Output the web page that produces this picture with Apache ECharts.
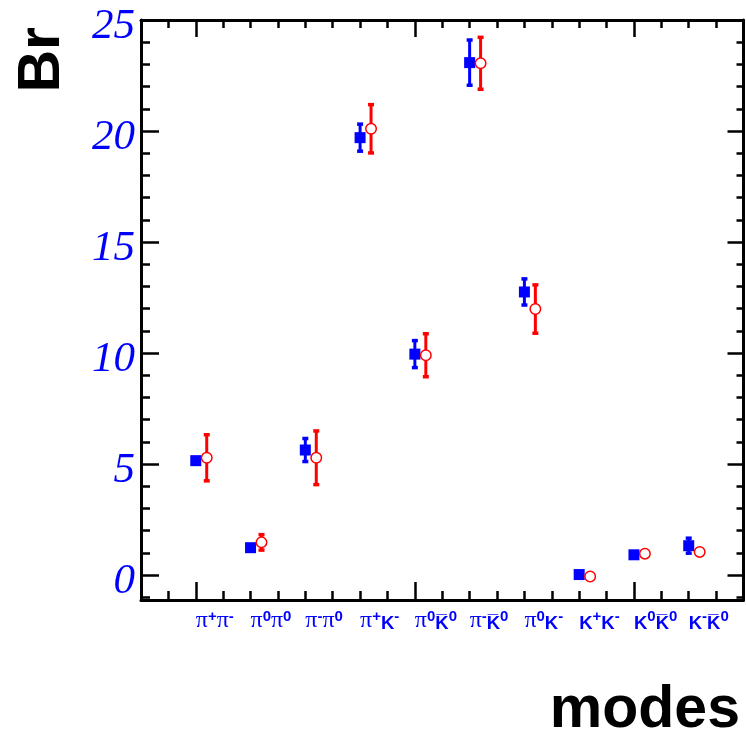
<!DOCTYPE html>
<html><head><meta charset="utf-8">
<script src="https://cdn.jsdelivr.net/npm/echarts@6/dist/echarts.min.js"></script>
<style>html,body{margin:0;padding:0;background:#fff}#c{width:746px;height:737px}</style>
</head><body><div id="c"></div>
<script>
// categories (decay modes), drawn at x = 0..9
const modeLabels = [
  '{p|π}{s|+}{p|π}{s|-}',
  '{p|π}{s|0}{p|π}{s|0}',
  '{p|π}{s|-}{p|π}{s|0}',
  '{p|π}{s|+}{k|K}{s|-}',
  '{p|π}{s|0}{k|K\u0305}{s|0}',
  '{p|π}{s|-}{k|K\u0305}{s|0}',
  '{p|π}{s|0}{k|K}{s|-}',
  '{k|K}{s|+}{k|K}{s|-}',
  '{k|K}{s|0}{k|K\u0305}{s|0}',
  '{k|K}{s|-}{k|K\u0305}{s|0}'
];
const modePositions = [0, 1, 2, 3, 4, 5, 6, 7, 8, 9];
// blue filled squares
const blueValues = [5.15, 1.23, 5.63, 19.70, 9.95, 23.08, 12.75, 0.02, 0.91, 1.32];
const blueErrors = [0.15, 0.10, 0.53, 0.62, 0.62, 1.03, 0.60, 0.05, 0.05, 0.35];
// red open circles (drawn shifted right by 0.2)
const redValues = [5.28, 1.47, 5.28, 20.10, 9.90, 23.05, 11.98, -0.07, 0.96, 1.04];
const redErrors = [1.05, 0.36, 1.22, 1.10, 0.98, 1.18, 1.10, 0.05, 0.05, 0.05];
const redShift = 0.2;
// y tick labels
const yTickLabels = [0, 5, 10, 15, 20, 25];
const yMinorTicks = [-1,0,1,2,3,4,5,6,7,8,9,10,11,12,13,14,15,16,17,18,19,20,21,22,23,24,25];
const xMajorTicks = [0, 4, 8];
const xMinorTicks = [-0.5,0,0.5,1,1.5,2,2.5,3,3.5,4,4.5,5,5.5,6,6.5,7,7.5,8,8.5,9,9.5];

const BLUE = '#0000ff', RED = '#ff0000';
const X_MIN = -1, X_MAX = 10, Y_MIN = -1.126, Y_MAX = 25;

function errRender(color) {
  return function (params, api) {
    const x = api.value(0), lo = api.value(1), hi = api.value(2);
    const p1 = api.coord([x, hi]), p2 = api.coord([x, lo]);
    return { type: 'group', children: [
      { type: 'line', shape: { x1: p1[0], y1: p1[1], x2: p2[0], y2: p2[1] }, style: { stroke: color, lineWidth: 3 } },
      { type: 'rect', shape: { x: p1[0] - 3, y: p1[1] - 1.5, width: 6, height: 3.5 }, style: { fill: color } },
      { type: 'rect', shape: { x: p2[0] - 3, y: p2[1] - 2, width: 6, height: 3.5 }, style: { fill: color } }
    ]};
  };
}

const lineStyle = { color: '#000', width: 3 };
function xAx(pos, showLine, ticks, len, labels) {
  return {
    type: 'value', position: pos, min: X_MIN, max: X_MAX,
    axisLine: { show: showLine, onZero: false, lineStyle: lineStyle },
    axisTick: { show: true, inside: true, length: len, customValues: ticks, lineStyle: { color: '#000', width: 2.5 } },
    axisLabel: labels ? {
      show: true, customValues: modePositions, align: 'left', margin: 9,
      formatter: v => modeLabels[Math.round(v)] || '',
      rich: {
        p: { fontFamily: 'Liberation Serif', fontSize: 24, color: BLUE, lineHeight: 24, verticalAlign: 'bottom' },
        k: { fontFamily: 'Liberation Sans', fontWeight: 'bold', fontSize: 18.5, color: BLUE, lineHeight: 24, verticalAlign: 'bottom' },
        s: { fontFamily: 'Liberation Sans', fontWeight: 'bold', fontSize: 15, color: BLUE, lineHeight: 15, verticalAlign: 'top' }
      }
    } : { show: false },
    splitLine: { show: false }
  };
}
function yAx(pos, showLine, ticks, len, labels) {
  return {
    type: 'value', position: pos, min: Y_MIN, max: Y_MAX,
    axisLine: { show: showLine, onZero: false, lineStyle: lineStyle },
    axisTick: { show: true, inside: true, length: len, customValues: ticks, lineStyle: { color: '#000', width: 2.5 } },
    axisLabel: labels ? {
      show: true, customValues: yTickLabels, margin: 6,
      fontFamily: 'Liberation Serif', fontStyle: 'italic', fontSize: 43, color: BLUE,
      verticalAlign: 'top', lineHeight: 14
    } : { show: false },
    splitLine: { show: false }
  };
}

const chart = echarts.init(document.getElementById('c'), null, { renderer: 'canvas' });
chart.setOption({
  animation: false,
  backgroundColor: '#fff',
  grid: { left: 141, right: 2.5, top: 20, bottom: 137, containLabel: false, outerBoundsMode: 'none' },
  xAxis: [
    xAx('bottom', true, xMinorTicks, 9, true),
    xAx('bottom', false, xMajorTicks, 18, false),
    xAx('top', true, xMinorTicks, 8, false),
    xAx('top', false, xMajorTicks, 17, false)
  ],
  yAxis: [
    yAx('left', true, yTickLabels, 18, true),
    yAx('left', false, yMinorTicks, 9, false),
    yAx('right', true, yTickLabels, 16, false),
    yAx('right', false, yMinorTicks, 7, false)
  ],
  graphic: [
    { type: 'text', x: 740, y: 740, style: { text: 'modes', font: 'bold 59px "Liberation Sans"', fill: '#000', align: 'right', verticalAlign: 'bottom' } },
    { type: 'text', x: 72, y: 27, rotation: Math.PI / 2, style: { text: 'Br', font: 'bold 59px "Liberation Sans"', fill: '#000', align: 'right', verticalAlign: 'bottom' } }
  ],
  series: [
    { type: 'custom', xAxisIndex: 0, yAxisIndex: 0, z: 2, renderItem: errRender(BLUE),
      data: modePositions.map((x, i) => [x, blueValues[i] - blueErrors[i], blueValues[i] + blueErrors[i]]) },
    { type: 'custom', xAxisIndex: 0, yAxisIndex: 0, z: 2, renderItem: errRender(RED),
      data: modePositions.map((x, i) => [x + redShift, redValues[i] - redErrors[i], redValues[i] + redErrors[i]]) },
    { type: 'scatter', xAxisIndex: 0, yAxisIndex: 0, z: 3, symbol: 'rect', symbolSize: 11,
      itemStyle: { color: BLUE, opacity: 1 },
      data: modePositions.map((x, i) => [x, blueValues[i]]) },
    { type: 'scatter', xAxisIndex: 0, yAxisIndex: 0, z: 3, symbol: 'circle', symbolSize: 10.5,
      itemStyle: { color: '#fff', borderColor: RED, borderWidth: 1.5, opacity: 1 },
      data: modePositions.map((x, i) => [x + redShift, redValues[i]]) }
  ]
});
</script></body></html>
